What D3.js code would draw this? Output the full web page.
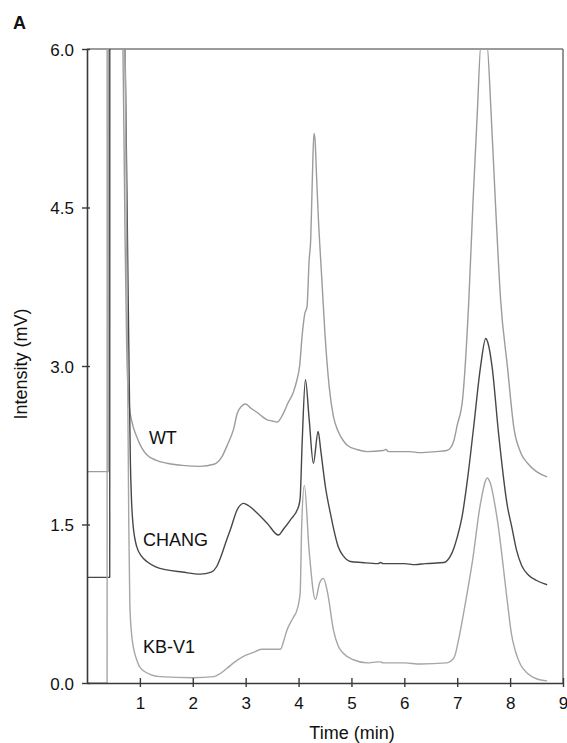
<!DOCTYPE html>
<html>
<head>
<meta charset="utf-8">
<script src="https://cdn.jsdelivr.net/npm/d3@7/dist/d3.min.js"></script>
<style>
  html, body { margin: 0; padding: 0; background: #ffffff; }
  svg { display: block; font-family: "Liberation Sans", Arial, sans-serif; }
</style>
</head>
<body>
<svg id="chart" width="567" height="743"></svg>
<script>
// ---- data (time in min, intensity in mV) ----
const xTicks = [1, 2, 3, 4, 5, 6, 7, 8, 9];
const yTicks = [0, 1.5, 3.0, 4.5, 6.0];
const seriesNames = ["WT", "CHANG", "KB-V1"];

const wtData = [
  [0, 2.0], [0.400, 2.0], [0.401, 7], [0.62, 7], [0.68, 6.0], [0.72, 4.2], [0.75, 3.2], [0.77, 2.85],
  [0.80, 2.62], [0.85, 2.47], [0.94, 2.33], [1.03, 2.23], [1.13, 2.16], [1.3, 2.11], [1.51, 2.08],
  [1.8, 2.06], [2.14, 2.05], [2.4, 2.07], [2.55, 2.14], [2.66, 2.26], [2.77, 2.40], [2.84, 2.55],
  [2.92, 2.62], [3.0, 2.64], [3.1, 2.60], [3.22, 2.56], [3.41, 2.49], [3.5, 2.48], [3.6, 2.47],
  [3.71, 2.55], [3.8, 2.65], [3.9, 2.75], [3.97, 2.87], [4.02, 3.0], [4.07, 3.3], [4.12, 3.5],
  [4.16, 3.56], [4.20, 4.0], [4.23, 4.2], [4.26, 4.76], [4.29, 5.20], [4.31, 5.15], [4.34, 4.80],
  [4.37, 4.45], [4.44, 3.82], [4.50, 3.30], [4.58, 2.80], [4.66, 2.52], [4.75, 2.38], [4.85, 2.29],
  [4.92, 2.25], [5.1, 2.21], [5.3, 2.19], [5.6, 2.20], [5.65, 2.21], [5.7, 2.19], [6.1, 2.19],
  [6.3, 2.18], [6.6, 2.19], [6.8, 2.20], [6.88, 2.23], [6.94, 2.30], [7.0, 2.44], [7.1, 2.68],
  [7.22, 3.63], [7.30, 4.57], [7.38, 5.40], [7.45, 6.05], [7.56, 6.05], [7.64, 5.40], [7.72, 4.57],
  [7.82, 3.63], [7.95, 2.99], [8.07, 2.42], [8.2, 2.18], [8.33, 2.08], [8.5, 2.0], [8.7, 1.95]
];

const changData = [
  [0, 1.0], [0.430, 1.0], [0.431, 7], [0.66, 7], [0.72, 6.0], [0.77, 4.0], [0.80, 2.8], [0.82, 2.1],
  [0.84, 1.75], [0.87, 1.50], [0.90, 1.38], [0.94, 1.29], [1.03, 1.20], [1.13, 1.15], [1.3, 1.10],
  [1.51, 1.07], [1.8, 1.05], [2.14, 1.03], [2.35, 1.05], [2.45, 1.10], [2.55, 1.22], [2.63, 1.34],
  [2.71, 1.45], [2.84, 1.64], [2.96, 1.70], [3.05, 1.68], [3.15, 1.64], [3.41, 1.51], [3.62, 1.40],
  [3.72, 1.46], [3.84, 1.54], [4.0, 1.67], [4.03, 1.75], [4.07, 2.30], [4.13, 2.87], [4.20, 2.50],
  [4.28, 2.08], [4.37, 2.38], [4.42, 2.20], [4.51, 1.85], [4.60, 1.61], [4.75, 1.29], [4.85, 1.20],
  [4.98, 1.15], [5.2, 1.14], [5.5, 1.13], [5.55, 1.14], [5.6, 1.13], [6.0, 1.13], [6.2, 1.12],
  [6.4, 1.13], [6.75, 1.14], [6.87, 1.20], [6.94, 1.28], [7.0, 1.38], [7.09, 1.57], [7.2, 1.95],
  [7.31, 2.42], [7.44, 2.99], [7.54, 3.26], [7.58, 3.22], [7.66, 2.99], [7.78, 2.37], [7.95, 1.67],
  [8.03, 1.48], [8.12, 1.26], [8.22, 1.11], [8.35, 1.02], [8.5, 0.97], [8.7, 0.93]
];

const kbData = [
  [0, 0.0], [0.380, 0.0], [0.381, 7], [0.68, 7], [0.72, 6.0], [0.76, 3.5], [0.79, 1.5], [0.81, 0.75],
  [0.84, 0.48], [0.88, 0.33], [0.94, 0.22], [1.0, 0.15], [1.2, 0.08], [1.38, 0.06], [2.0, 0.05],
  [2.4, 0.06], [2.52, 0.09], [2.65, 0.14], [2.77, 0.19], [2.95, 0.25], [3.15, 0.29], [3.3, 0.32],
  [3.66, 0.32], [3.72, 0.40], [3.78, 0.50], [3.9, 0.62], [3.97, 0.69], [4.03, 0.85], [4.06, 1.50],
  [4.11, 1.87], [4.20, 1.25], [4.32, 0.79], [4.40, 0.95], [4.47, 0.99], [4.55, 0.85], [4.66, 0.50],
  [4.75, 0.35], [4.85, 0.28], [5.04, 0.22], [5.3, 0.19], [5.5, 0.20], [5.55, 0.20], [5.6, 0.19],
  [6.0, 0.19], [6.3, 0.18], [6.8, 0.19], [6.94, 0.24], [7.03, 0.42], [7.12, 0.66], [7.29, 1.16],
  [7.44, 1.70], [7.57, 1.94], [7.62, 1.90], [7.76, 1.54], [7.95, 0.76], [8.02, 0.48], [8.10, 0.30],
  [8.20, 0.17], [8.33, 0.09], [8.5, 0.04], [8.7, 0.02]
];

const labelPos = [ // [time, value] anchor for each series label
  [1.17, 2.26], [1.06, 1.30], [1.06, 0.28]
];

// ---- layout ----
const svg = d3.select("#chart");
const W = 567, H = 743;
const margin = { left: 87, right: 4, top: 49, bottom: 60 };
const x = d3.scaleLinear().domain([0, 9]).range([margin.left, W - margin.right]);
const y = d3.scaleLinear().domain([0, 6]).range([H - margin.bottom, margin.top]);

svg.append("defs").append("clipPath").attr("id", "plotclip")
  .append("rect")
  .attr("x", x(0)).attr("y", y(6))
  .attr("width", x(9) - x(0)).attr("height", y(0) - y(6));

// frame lines (top and right)
svg.append("line").attr("x1", x(0)).attr("x2", x(9)).attr("y1", y(6)).attr("y2", y(6))
  .attr("stroke", "#7a7a7a").attr("stroke-width", 1.6);
svg.append("line").attr("x1", x(9)).attr("x2", x(9)).attr("y1", y(6)).attr("y2", y(0))
  .attr("stroke", "#7a7a7a").attr("stroke-width", 1.6);

// traces
const line = d3.line().x(d => x(d[0])).y(d => y(d[1])).curve(d3.curveMonotoneX);
const traces = [
  { data: wtData, color: "#9c9c9c" },
  { data: changData, color: "#474747" },
  { data: kbData, color: "#a6a6a6" }
];
const g = svg.append("g").attr("clip-path", "url(#plotclip)");
traces.forEach(t => {
  g.append("path").datum(t.data).attr("d", line)
    .attr("fill", "none").attr("stroke", t.color).attr("stroke-width", 1.4)
    .attr("stroke-linejoin", "round");
});

// axes
const yAxis = d3.axisLeft(y).tickValues(yTicks).tickFormat(d3.format(".1f")).tickSizeOuter(0);
const yg = svg.append("g").attr("transform", `translate(${x(0)},0)`).call(yAxis);
yg.select(".domain").attr("stroke", "#3a3a3a").attr("stroke-width", 1.6);
yg.selectAll(".tick line").attr("x1", 3).attr("x2", -5).attr("stroke", "#3a3a3a").attr("stroke-width", 1.4);
yg.selectAll(".tick text").attr("x", -13).attr("dy", "0.37em")
  .attr("font-size", 17).attr("fill", "#111").attr("font-family", "Liberation Sans, Arial, sans-serif");

const xAxis = d3.axisBottom(x).tickValues(xTicks).tickFormat(d3.format("d")).tickSizeOuter(0);
const xg = svg.append("g").attr("transform", `translate(0,${y(0)})`).call(xAxis);
xg.select(".domain").attr("stroke", "#3a3a3a").attr("stroke-width", 1.6);
xg.selectAll(".tick line").attr("y1", -5).attr("y2", 4).attr("stroke", "#3a3a3a").attr("stroke-width", 1.4);
xg.selectAll(".tick text").attr("y", 26).attr("dy", 0)
  .attr("font-size", 17).attr("fill", "#111").attr("font-family", "Liberation Sans, Arial, sans-serif");

// axis titles
svg.append("text").attr("x", (x(0) + x(9)) / 2 + 27).attr("y", 739)
  .attr("text-anchor", "middle").attr("font-size", 18).attr("fill", "#111").text("Time (min)");
svg.append("text").attr("transform", `translate(27,${y(3) - 2}) rotate(-90)`)
  .attr("text-anchor", "middle").attr("font-size", 18).attr("fill", "#111").text("Intensity (mV)");

// panel letter
svg.append("text").attr("x", 13).attr("y", 29).attr("font-size", 18).attr("font-weight", "bold")
  .attr("fill", "#111").text("A");

// series labels
seriesNames.forEach((n, i) => {
  svg.append("text").attr("x", x(labelPos[i][0])).attr("y", y(labelPos[i][1]))
    .attr("font-size", 18).attr("fill", "#111").text(n);
});
</script>
</body>
</html>
